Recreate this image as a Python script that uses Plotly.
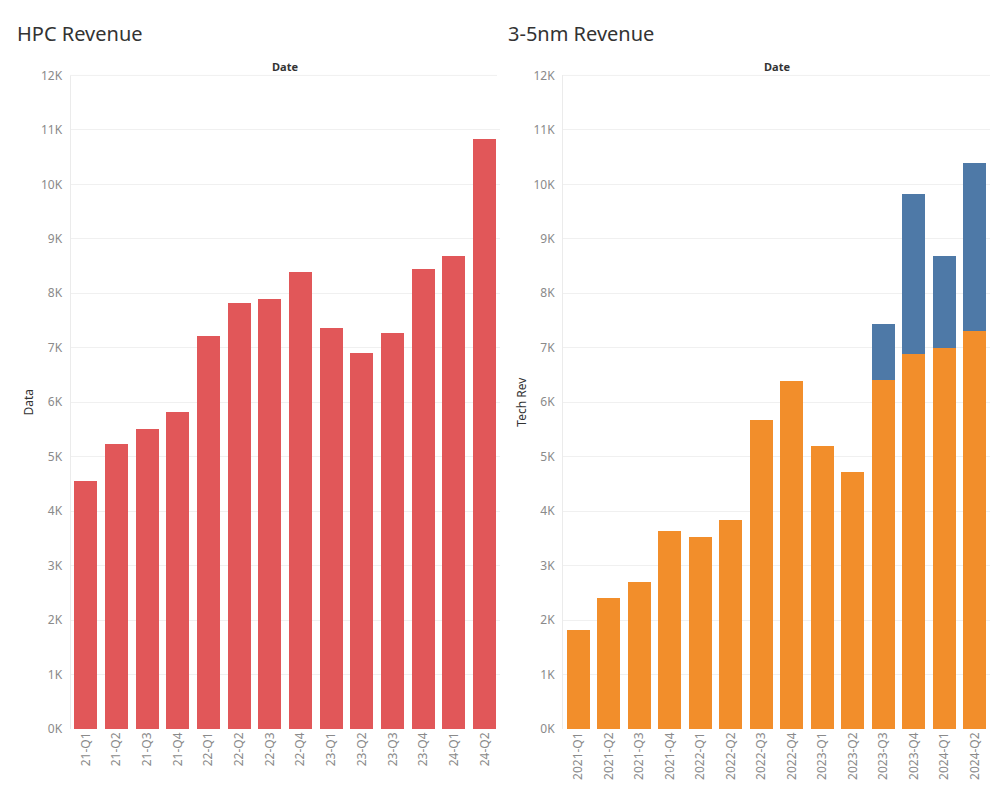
import plotly.graph_objects as go

# ---- data ----
hpc_quarters = ["21-Q1", "21-Q2", "21-Q3", "21-Q4", "22-Q1", "22-Q2", "22-Q3",
                "22-Q4", "23-Q1", "23-Q2", "23-Q3", "23-Q4", "24-Q1", "24-Q2"]
hpc_revenue = [4550, 5230, 5500, 5820, 7210, 7820, 7890,
               8390, 7360, 6900, 7270, 8440, 8680, 10830]

tech_quarters = ["2021-Q1", "2021-Q2", "2021-Q3", "2021-Q4", "2022-Q1", "2022-Q2", "2022-Q3",
                 "2022-Q4", "2023-Q1", "2023-Q2", "2023-Q3", "2023-Q4", "2024-Q1", "2024-Q2"]
rev_5nm = [1820, 2400, 2700, 3630, 3520, 3830, 5670,
           6390, 5190, 4720, 6400, 6880, 6990, 7300]
rev_3nm = [0, 0, 0, 0, 0, 0, 0,
           0, 0, 0, 1030, 2940, 1690, 3100]

y_ticks = list(range(0, 13000, 1000))
y_tick_labels = [f"{v // 1000}K" for v in y_ticks]

RED = "#E15759"
ORANGE = "#F28E2B"
BLUE = "#4E79A7"
FONT = "Noto Sans"
H = 800


def py(pix):
    """convert a target screen y (px) to paper coordinate, compensating for page squash"""
    y_in = (pix - 8.6) / 0.9786
    return 1 - y_in / H


fig = go.Figure()
fig.add_trace(go.Bar(x=hpc_quarters, y=hpc_revenue, marker_color=RED,
                     marker_line_width=0, xaxis="x", yaxis="y", name="HPC"))
fig.add_trace(go.Bar(x=tech_quarters, y=rev_5nm, marker_color=ORANGE,
                     marker_line_width=0, xaxis="x2", yaxis="y2", name="5nm"))
fig.add_trace(go.Bar(x=tech_quarters, y=rev_3nm, marker_color=BLUE,
                     marker_line_width=0, xaxis="x2", yaxis="y2", name="3nm"))

y_dom = [py(728.5), py(75)]
yaxis_common = dict(
    range=[0, 12000], tickvals=y_ticks, ticktext=y_tick_labels,
    showgrid=True, gridcolor="#f0f0f0", gridwidth=1,
    zeroline=False, showline=True, linecolor="#ebebeb", linewidth=1,
    ticks="", ticklabelstandoff=5,
    tickfont=dict(family=FONT, size=12, color="#8a8a8a"),
    fixedrange=True,
)
xaxis_common = dict(
    tickangle=-90, showgrid=False, zeroline=False, showline=False,
    ticks="", tickfont=dict(family=FONT, size=12, color="#8a8a8a"),
    type="category",
)

fig.update_layout(
    width=1000, height=H,
    margin=dict(l=0, r=0, t=0, b=0),
    paper_bgcolor="white", plot_bgcolor="white",
    barmode="stack", bargap=0.25, showlegend=False,
    font=dict(family=FONT),
    xaxis=dict(domain=[70.5 / 1000, 500 / 1000], anchor="y", **xaxis_common),
    yaxis=dict(domain=y_dom, anchor="x",
               title=dict(text="Data", font=dict(family=FONT, size=12, color="#333333"), standoff=4),
               **yaxis_common),
    xaxis2=dict(domain=[563 / 1000, 990 / 1000], anchor="y2", **xaxis_common),
    yaxis2=dict(domain=y_dom, anchor="x2",
                title=dict(text="Tech Rev", font=dict(family=FONT, size=12, color="#333333"), standoff=4),
                **yaxis_common),
    shapes=[
        dict(type="line", xref="paper", yref="paper", x0=70 / 1000, x1=497 / 1000,
             y0=py(75), y1=py(75), line=dict(color="#f0f0f0", width=1)),
        dict(type="line", xref="paper", yref="paper", x0=563 / 1000, x1=990 / 1000,
             y0=py(75), y1=py(75), line=dict(color="#f0f0f0", width=1)),
    ],
    annotations=[
        dict(text="HPC Revenue", x=15 / 1000, y=py(33), xref="paper", yref="paper",
             xanchor="left", yanchor="middle", showarrow=False,
             font=dict(family=FONT, size=20, color="#333333")),
        dict(text="3-5nm Revenue", x=506 / 1000, y=py(33), xref="paper", yref="paper",
             xanchor="left", yanchor="middle", showarrow=False,
             font=dict(family=FONT, size=20, color="#333333")),
        dict(text="<b>Date</b>", x=(70 + 500) / 2000, y=py(66), xref="paper", yref="paper",
             xanchor="center", yanchor="middle", showarrow=False,
             font=dict(family=FONT, size=11, color="#333333")),
        dict(text="<b>Date</b>", x=(563 + 990) / 2000, y=py(66), xref="paper", yref="paper",
             xanchor="center", yanchor="middle", showarrow=False,
             font=dict(family=FONT, size=11, color="#333333")),
    ],
)

fig.write_html("out.html")
